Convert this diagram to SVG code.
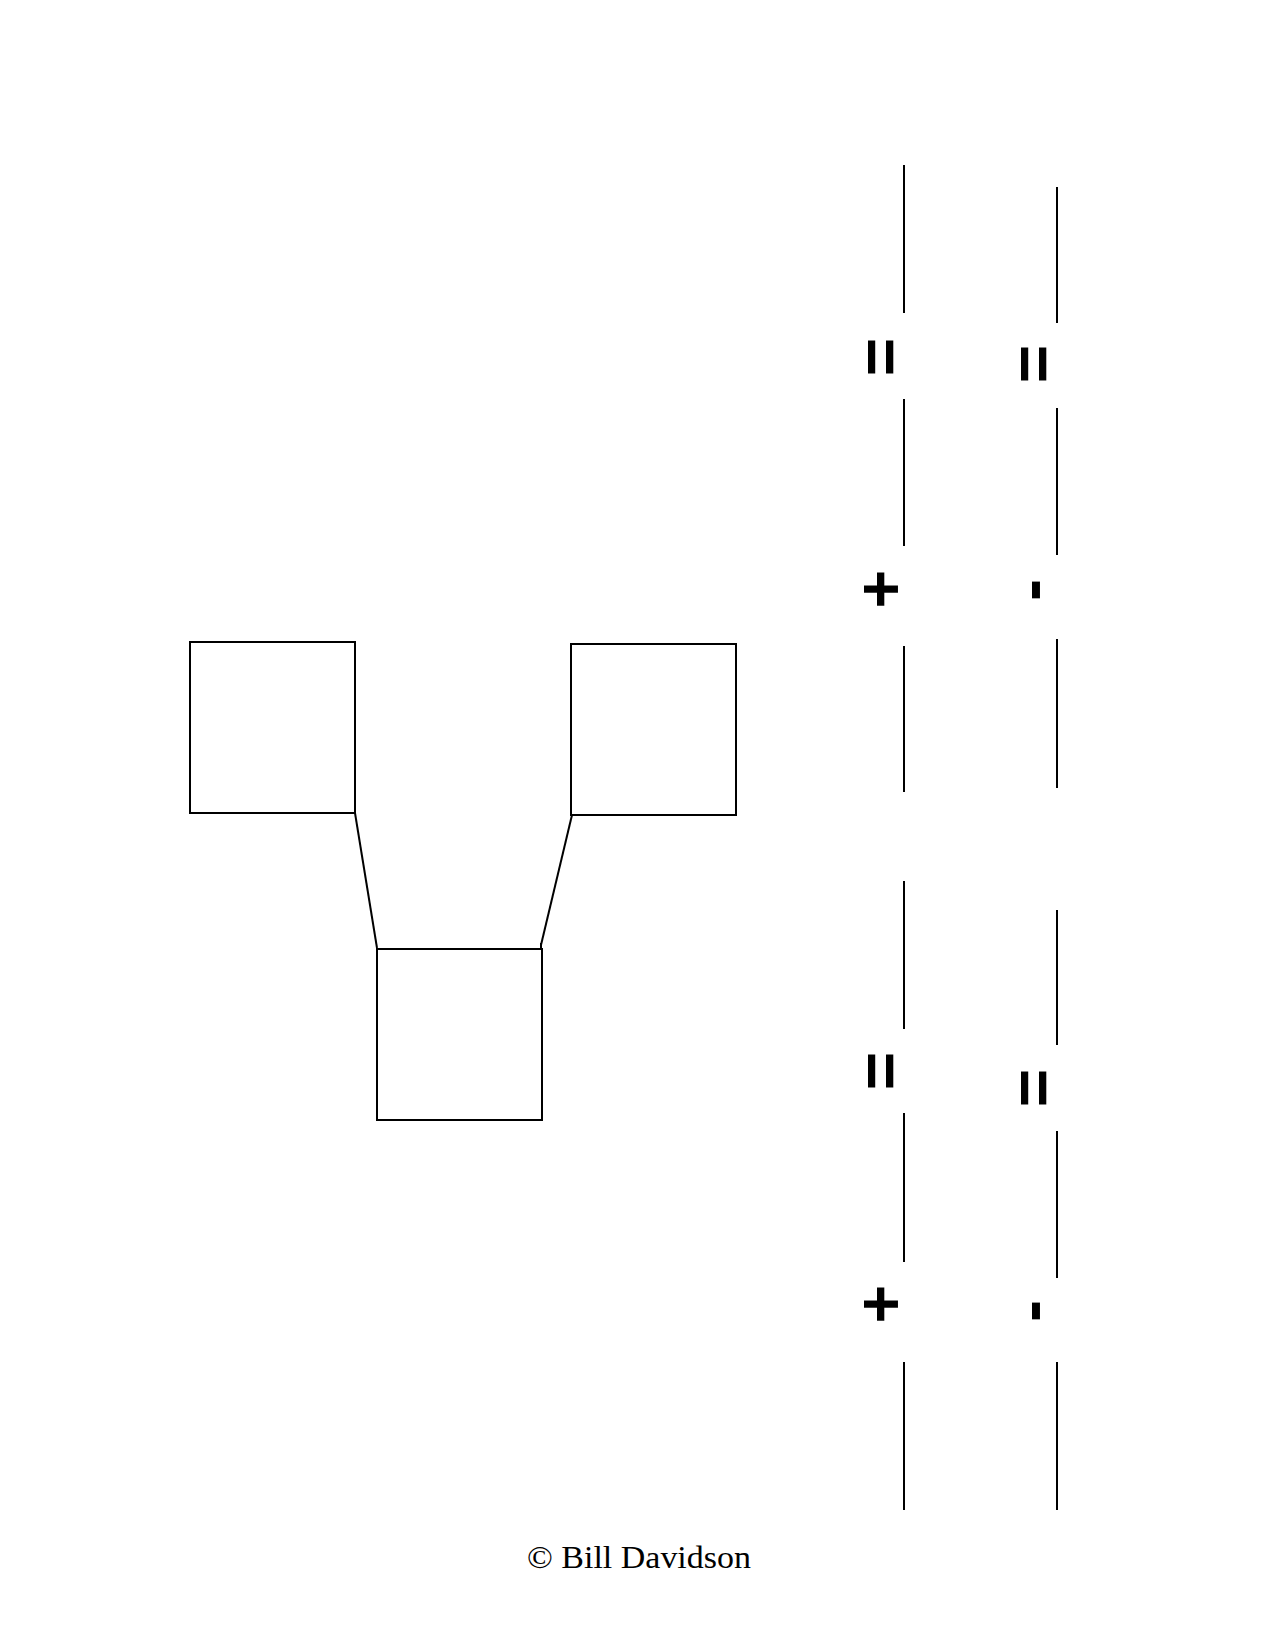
<svg xmlns="http://www.w3.org/2000/svg" width="1275" height="1650" viewBox="0 0 1275 1650">
<style>
.box{fill:#fff;stroke:#000;stroke-width:2}
.con{stroke:#000;stroke-width:2;fill:none}
.bar{stroke:#000;stroke-width:2}
.sym{font-family:"Liberation Sans",Arial,sans-serif;font-size:66px;font-weight:bold;fill:#000;text-anchor:middle;dominant-baseline:central}
.copy{font-family:"Liberation Serif","Times New Roman",serif;font-size:31px;fill:#000;text-anchor:middle}
</style>
<rect width="1275" height="1650" fill="#fff"/>
<g id="connectors">
<line class="con" x1="355" y1="813" x2="377" y2="948"/>
<line class="con" x1="572" y1="815" x2="541" y2="945"/>
<line class="con" x1="541" y1="943" x2="541" y2="950"/>
</g>
<g id="box-left"><rect class="box" x="190" y="642" width="165" height="171"/></g>
<g id="box-right"><rect class="box" x="571" y="644" width="165" height="171"/></g>
<g id="box-bottom"><rect class="box" x="377" y="949" width="165" height="171"/></g>
<g id="equation-top">
<line class="bar" x1="904" y1="165" x2="904" y2="313"/>
<line class="bar" x1="904" y1="399" x2="904" y2="546"/>
<line class="bar" x1="904" y1="646" x2="904" y2="792"/>
<line class="bar" x1="1057" y1="187" x2="1057" y2="323"/>
<line class="bar" x1="1057" y1="408" x2="1057" y2="555"/>
<line class="bar" x1="1057" y1="639" x2="1057" y2="788"/>
<text class="sym" transform="translate(881,357) rotate(90)">=</text>
<text class="sym" transform="translate(1034,364) rotate(90)">=</text>
<text class="sym" transform="translate(882,589) rotate(90)">+</text>
<text class="sym" transform="translate(1042,590) rotate(90)">-</text>
</g>
<g id="equation-bottom">
<line class="bar" x1="904" y1="881" x2="904" y2="1029"/>
<line class="bar" x1="904" y1="1113" x2="904" y2="1262"/>
<line class="bar" x1="904" y1="1362" x2="904" y2="1510"/>
<line class="bar" x1="1057" y1="910" x2="1057" y2="1045"/>
<line class="bar" x1="1057" y1="1131" x2="1057" y2="1278"/>
<line class="bar" x1="1057" y1="1362" x2="1057" y2="1510"/>
<text class="sym" transform="translate(881,1071) rotate(90)">=</text>
<text class="sym" transform="translate(1034,1088) rotate(90)">=</text>
<text class="sym" transform="translate(882,1304) rotate(90)">+</text>
<text class="sym" transform="translate(1042,1311) rotate(90)">-</text>
</g>
<text class="copy" x="639" y="1568" textLength="224" lengthAdjust="spacingAndGlyphs">© Bill Davidson</text>
</svg>
